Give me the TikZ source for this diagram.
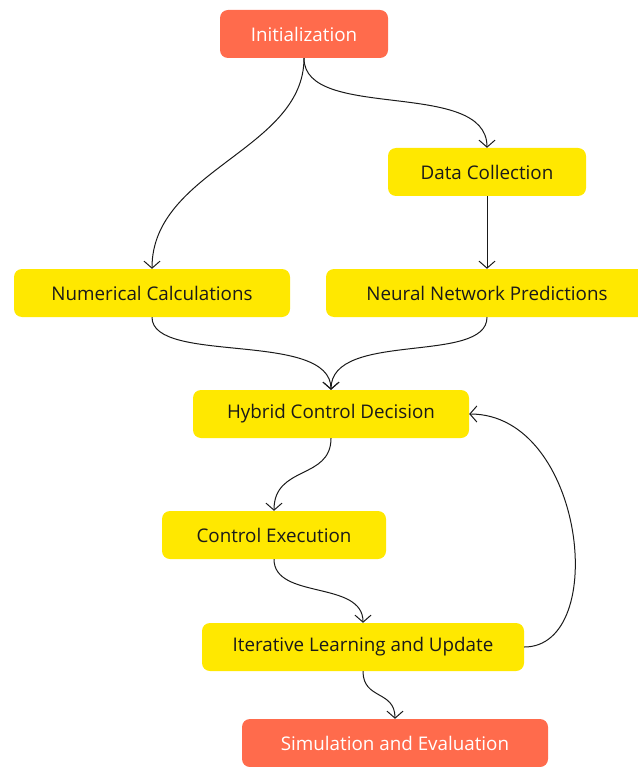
\documentclass[tikz,border=0pt]{standalone}
\usepackage{fontspec}
\setmainfont{Open Sans}
\usetikzlibrary{arrows.meta}
\definecolor{coral}{HTML}{FF6B4C}
\definecolor{sun}{HTML}{FFE800}
\definecolor{ink}{HTML}{1A1A1A}
\tikzset{
  box/.style={rectangle, rounded corners=8pt, minimum height=48pt, inner sep=0pt,
              font=\fontsize{18.8}{22}\selectfont},
  endbox/.style={box, fill=coral, text=white},
  midbox/.style={box, fill=sun, text=ink},
  link/.style={draw=ink, line width=1pt, -{Straight Barb[length=7pt,width=16pt,line width=1pt]}},
}
\begin{document}
\begin{tikzpicture}[x=1pt,y=-1pt]
  \useasboundingbox (0,0) rectangle (637,767);
  % boxes
  \node[endbox, minimum width=168pt] (init) at (304,34) {Initialization};
  \node[midbox, minimum width=198pt] (data) at (487,172) {Data Collection};
  \node[midbox, minimum width=276pt] (num)  at (152,293) {Numerical Calculations};
  \node[midbox, minimum width=322pt] (nn)   at (487,293) {Neural Network Predictions};
  \node[midbox, minimum width=276pt] (hyb)  at (331,414) {Hybrid Control Decision};
  \node[midbox, minimum width=224pt] (exe)  at (274,535) {Control Execution};
  \node[midbox, minimum width=322pt] (iter) at (363,647) {Iterative Learning and Update};
  \node[endbox, minimum width=306pt] (sim)  at (395,743) {Simulation and Evaluation};
  % connectors
  \draw[link] (init.south) .. controls (304,150) and (152,170) .. (num.north);
  \draw[link] (init.south) .. controls (304,122) and (487,78) .. (data.north);
  \draw[link] (data.south) -- (nn.north);
  \draw[link] (num.south) .. controls (152,365) and (331,330) .. (hyb.north);
  \draw[link] (nn.south) .. controls (487,365) and (331,330) .. (hyb.north);
  \draw[link] (hyb.south) .. controls (331,480) and (274,465) .. (exe.north);
  \draw[link] (exe.south) .. controls (274,600) and (363,580) .. (iter.north);
  \draw[link] (iter.south) .. controls (363,700) and (395,690) .. (sim.north);
  \draw[link] (iter.east) .. controls (610,647) and (585,414) .. (hyb.east);
\end{tikzpicture}
\end{document}
